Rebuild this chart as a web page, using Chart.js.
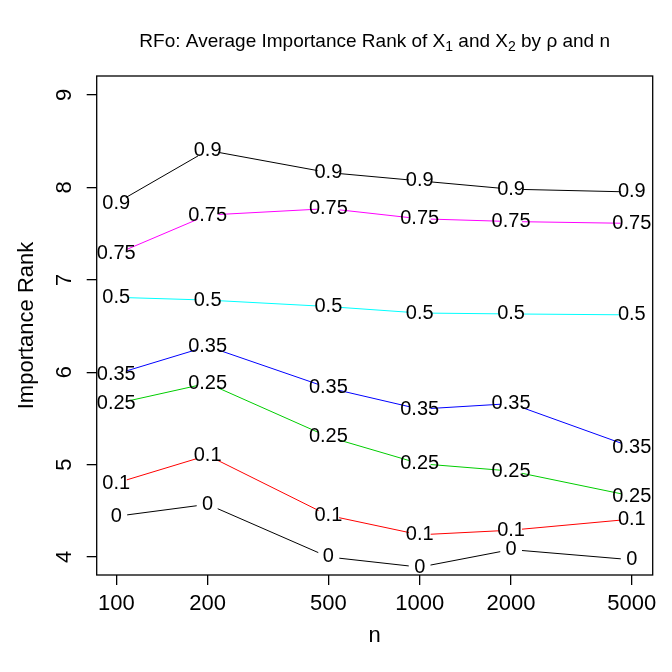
<!DOCTYPE html>
<html>
<head>
<meta charset="utf-8">
<script src="https://cdn.jsdelivr.net/npm/chart.js@4.4.1/dist/chart.umd.min.js"></script>
<style>
  body { margin: 0; background: #fff; }
  #chart { display: block; }
</style>
</head>
<body>
<canvas id="chart" width="672" height="672"></canvas>
<script>
/* data */
var nValues = [100, 200, 500, 1000, 2000, 5000];
var rhoLabels = ["0", "0.1", "0.25", "0.35", "0.5", "0.75", "0.9"];

var rank0   = [4.44, 4.57, 4.00, 3.89, 4.08, 3.97];
var rank01  = [4.80, 5.10, 4.45, 4.24, 4.29, 4.41];
var rank025 = [5.66, 5.88, 5.30, 5.01, 4.93, 4.66];
var rank035 = [5.98, 6.28, 5.83, 5.60, 5.66, 5.19];
var rank05  = [6.81, 6.78, 6.71, 6.64, 6.63, 6.62];
var rank075 = [7.28, 7.70, 7.77, 7.66, 7.63, 7.61];
var rank09  = [7.83, 8.40, 8.16, 8.07, 7.98, 7.95];

var yTicks = [4, 5, 6, 7, 8, 9];
var lineColors = ["#000000", "#FF0000", "#00CD00", "#0000FF", "#00FFFF", "#FF00FF", "#000000"];

var allRanks = [rank0, rank01, rank025, rank035, rank05, rank075, rank09];

/* title pieces: [text, subscript?] */
var titleParts = [
    ["RFo: Average Importance Rank of X", false], ["1", true],
    [" and X", false], ["2", true],
    [" by \u03C1 and n", false]
];

var fontFamily = '"Liberation Sans", Arial, Helvetica, sans-serif';
Chart.defaults.font.family = fontFamily;
Chart.defaults.color = "#000";

var datasets = [];
var i;
for (i = 0; i < allRanks.length; i++) {
    const ranks = allRanks[i];
    datasets.push({
        label: rhoLabels[i],
        data: nValues.map(function(n, k) { return { x: n, y: ranks[k] }; }),
        borderColor: lineColors[i],
        showLine: false,
        pointRadius: 0
    });
}

/* lines with gaps round each point (like R type="b"), then the rho text */
var gappedLines = {
    id: "gappedLines",
    afterDatasetsDraw: function(chart) {
        const ctx = chart.ctx;
        const gap = 11;
        ctx.save();
        chart.data.datasets.forEach(function(ds, d) {
            const pts = chart.getDatasetMeta(d).data;
            ctx.strokeStyle = ds.borderColor;
            ctx.lineWidth = 1;
            for (let k = 0; k < pts.length - 1; k++) {
                const a = pts[k], b = pts[k + 1];
                const dx = b.x - a.x, dy = b.y - a.y;
                const len = Math.sqrt(dx * dx + dy * dy);
                if (len <= 2 * gap) continue;
                const ux = dx / len, uy = dy / len;
                ctx.beginPath();
                ctx.moveTo(a.x + ux * gap, a.y + uy * gap);
                ctx.lineTo(b.x - ux * gap, b.y - uy * gap);
                ctx.stroke();
            }
            ctx.fillStyle = "#000";
            ctx.font = "20px " + fontFamily;
            ctx.textAlign = "center";
            ctx.textBaseline = "middle";
            pts.forEach(function(p) {
                ctx.fillText(ds.label, p.x, p.y);
            });
        });
        // plot box
        const area = chart.chartArea;
        ctx.strokeStyle = "#000";
        ctx.lineWidth = 1.3;
        ctx.strokeRect(area.left, area.top, area.right - area.left, area.bottom - area.top);

        // title centred over the plot region, with real subscripts
        const big = "19px " + fontFamily, small = "14px " + fontFamily;
        let total = 0;
        titleParts.forEach(function(p) {
            ctx.font = p[1] ? small : big;
            total += ctx.measureText(p[0]).width;
        });
        let x = (area.left + area.right) / 2 - total / 2;
        const base = 47;
        ctx.textAlign = "left";
        ctx.textBaseline = "alphabetic";
        titleParts.forEach(function(p) {
            ctx.font = p[1] ? small : big;
            ctx.fillText(p[0], x, p[1] ? base + 4 : base);
            x += ctx.measureText(p[0]).width;
        });
        ctx.restore();
    }
};

window.onload = function() {
    var ctx = document.getElementById("chart").getContext("2d");
    window.theChart = new Chart(ctx, {
        type: "line",
        data: { datasets: datasets },
        plugins: [gappedLines],
        options: {
            responsive: false,
            animation: false,
            devicePixelRatio: 1,
            layout: { padding: { top: 76, right: 19.3, left: 0, bottom: 0 } },
            plugins: {
                legend: { display: false },
                tooltip: { enabled: false },
                title: { display: false }
            },
            scales: {
                x: {
                    type: "logarithmic",
                    min: 86.2,
                    max: 5860,
                    afterBuildTicks: function(scale) {
                        scale.ticks = nValues.map(function(v) { return { value: v }; });
                    },
                    afterFit: function(scale) { scale.height = 97; },
                    ticks: {
                        autoSkip: false,
                        maxRotation: 0,
                        font: { size: 22 },
                        color: "#000",
                        padding: 6,
                        callback: function(v) { return String(v); }
                    },
                    grid: {
                        drawOnChartArea: false,
                        drawTicks: true,
                        tickLength: 10,
                        color: "#000",
                        lineWidth: 1.3
                    },
                    border: { display: false },
                    title: {
                        display: true,
                        text: "n",
                        font: { size: 22 },
                        color: "#000",
                        padding: { top: 0, bottom: 23 }
                    }
                },
                y: {
                    min: 3.805,
                    max: 9.205,
                    afterBuildTicks: function(scale) {
                        scale.ticks = yTicks.map(function(v) { return { value: v }; });
                    },
                    afterFit: function(scale) { scale.width = 96.7; },
                    ticks: {
                        minRotation: 90,
                        maxRotation: 90,
                        crossAlign: "center",
                        font: { size: 22 },
                        color: "#000",
                        padding: 16,
                        callback: function(v) { return String(v); }
                    },
                    grid: {
                        drawOnChartArea: false,
                        drawTicks: true,
                        tickLength: 10,
                        color: "#000",
                        lineWidth: 1.3
                    },
                    border: { display: false },
                    title: {
                        display: true,
                        text: "Importance Rank",
                        font: { size: 22 },
                        color: "#000",
                        padding: { top: 14, bottom: 0 }
                    }
                }
            }
        }
    });
};
</script>
</body>
</html>
